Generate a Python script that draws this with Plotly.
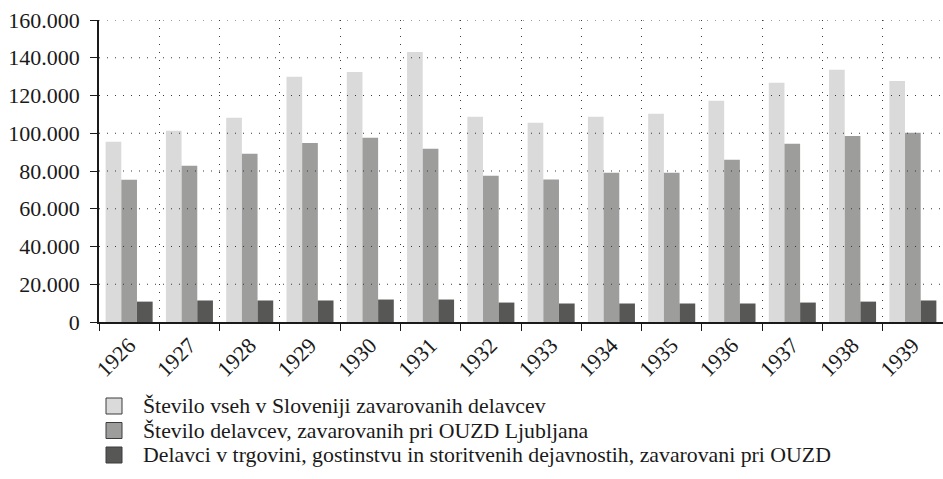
import plotly.graph_objects as go

# Insured workers per year
years = ["1926", "1927", "1928", "1929", "1930", "1931", "1932",
         "1933", "1934", "1935", "1936", "1937", "1938", "1939"]

vsi_slovenija = [95500, 101300, 108200, 129900, 132500, 143100, 108700,
                 105500, 108700, 110300, 117200, 126700, 133600, 127700]
ouzd_ljubljana = [75400, 82800, 89100, 94900, 97600, 91800, 77500,
                  75500, 79100, 79100, 86000, 94400, 98600, 100200]
trgovina_storitve = [10800, 11400, 11400, 11400, 11900, 11900, 10300,
                     9800, 9800, 9800, 9800, 10300, 10800, 11400]

series_names = [
    "Število vseh v Sloveniji zavarovanih delavcev",
    "Število delavcev, zavarovanih pri OUZD Ljubljana",
    "Delavci v trgovini, gostinstvu in storitvenih dejavnostih, zavarovani pri OUZD",
]
series_colors = ["#dadada", "#9d9d9c", "#575756"]
y_ticks = [0, 20000, 40000, 60000, 80000, 100000, 120000, 140000, 160000]

FONT = "Liberation Serif"
W, H = 943, 479
M_L, M_R, M_T, M_B = 99, 0, 20, 157
PW, PH = W - M_L - M_R, H - M_T - M_B


def px_x(x):
    return (x - M_L) / PW


def px_y(y):
    return (H - M_B - y) / PH


fig = go.Figure()
for name, vals, col in zip(series_names,
                           [vsi_slovenija, ouzd_ljubljana, trgovina_storitve],
                           series_colors):
    fig.add_trace(go.Bar(x=years, y=vals, name=name, marker_color=col,
                         marker_line_width=0, showlegend=False))

# dotted horizontal grid drawn over the bars
shapes = []
for v in y_ticks[1:]:
    shapes.append(dict(type="line", xref="paper", x0=0, x1=1, yref="y",
                       y0=v, y1=v, layer="above",
                       line=dict(color="#3a3a3a", width=1.2, dash="1px,7px")))

# legend below the plot: swatch + label per series
annotations = []
row0, row_step, sw = 406, 24.5, 16
for i, (name, col) in enumerate(zip(series_names, series_colors)):
    cy = row0 + i * row_step
    shapes.append(dict(type="rect", xref="paper", yref="paper",
                       x0=px_x(106), x1=px_x(106 + sw),
                       y0=px_y(cy - sw / 2), y1=px_y(cy + sw / 2),
                       fillcolor=col, line=dict(color="#3c3c3c", width=1)))
    annotations.append(dict(xref="paper", yref="paper", x=px_x(141),
                            y=px_y(cy), text=name, showarrow=False,
                            xanchor="left", yanchor="middle",
                            font=dict(family=FONT, size=21.8, color="#1a1a1a")))

fig.update_layout(
    width=W, height=H,
    margin=dict(l=M_L, r=M_R, t=M_T, b=M_B, pad=0),
    paper_bgcolor="white", plot_bgcolor="white",
    barmode="group", bargap=0.22, bargroupgap=0,
    separators=",.",
    font=dict(family=FONT, size=22, color="#1a1a1a"),
    shapes=shapes, annotations=annotations,
    showlegend=False,
)
fig.update_xaxes(
    type="category", tickson="boundaries", tickangle=-45,
    ticks="outside", ticklen=7, tickwidth=1.3, tickcolor="#1a1a1a",
    showline=True, linecolor="#1a1a1a", linewidth=1.6,
    showgrid=True, gridcolor="#3a3a3a", gridwidth=1.2, griddash="1px,7px",
    tickfont=dict(family=FONT, size=22),
)
fig.update_yaxes(
    range=[0, 160000], tickvals=y_ticks, tickformat=",d",
    ticks="outside", ticklen=7, tickwidth=1.3, tickcolor="#1a1a1a",
    showline=True, linecolor="#1a1a1a", linewidth=1.6,
    showgrid=False, zeroline=False, ticklabelstandoff=6,
    tickfont=dict(family=FONT, size=22),
)

fig.write_html("out.html")
